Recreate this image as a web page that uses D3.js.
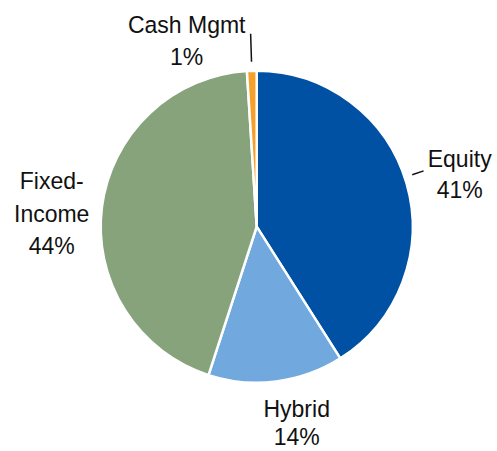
<!DOCTYPE html>
<html>
<head>
<meta charset="utf-8">
<script src="https://cdn.jsdelivr.net/npm/d3@7"></script>
<style>
  html, body { margin: 0; padding: 0; background: #fff; }
  svg text { font-family: "Liberation Sans", Arial, sans-serif; fill: #111; }
</style>
</head>
<body>
<div id="chart"></div>
<script>
// Data
const categories = ["Equity", "Hybrid", "Fixed-Income", "Cash Mgmt"];
const shares = [41, 14, 44, 1];
const colors = ["#0050a4", "#71a9df", "#87a37c", "#f5a02a"];

// label text lines (per category)
const labelLines = [["Equity", "41%"], ["Hybrid", "14%"], ["Fixed-", "Income", "44%"], ["Cash Mgmt", "1%"]];
// label placement relative to pie centre: x centre, first baseline, line gap
const labelPos = [[203, -60, 31], [40, 190.5, 28], [-205, -37.5, 32.5], [-70, -193.5, 31.5]];
// leader lines: [inner gap, outer gap] beyond the radius, null = none
const leaders = [[8, 20], null, null, [9, 37]];

const width = 497;
const height = 451;
const cx = 256.7, cy = 226.7, radius = 156;

const svg = d3.select("#chart").append("svg")
    .attr("width", width)
    .attr("height", height);

const g = svg.append("g").attr("transform", `translate(${cx},${cy})`);

const pie = d3.pie().sort(null).value(d => d.v);
const arcs = pie(categories.map((c, i) => ({ name: c, v: shares[i], i })));

const arc = d3.arc().innerRadius(0).outerRadius(radius);

// slices
g.selectAll("path.slice")
    .data(arcs)
    .enter().append("path")
    .attr("class", "slice")
    .attr("d", arc)
    .attr("fill", d => colors[d.data.i])
    .attr("stroke", "#fff")
    .attr("stroke-width", 2.5)
    .attr("stroke-linejoin", "round");

// leader lines
arcs.forEach(d => {
    const l = leaders[d.data.i];
    if (!l) return;
    const a = (d.startAngle + d.endAngle) / 2;
    // equity leader tilts slightly up from the radial direction
    const tilt = d.data.i === 0 ? -0.04 : 0;
    const p = r => [Math.sin(a + tilt) * r, -Math.cos(a + tilt) * r];
    const p1 = p(radius + l[0]);
    const p2 = p(radius + l[1]);
    g.append("line")
        .attr("x1", p1[0]).attr("y1", p1[1])
        .attr("x2", p2[0]).attr("y2", p2[1])
        .attr("stroke", "#111")
        .attr("stroke-width", 1.5);
});

// labels
const sy = 1.06;
labelLines.forEach((lines, i) => {
    const [lx, ly, gap] = labelPos[i];
    const t = g.append("text")
        .attr("text-anchor", "middle")
        .style("font-size", "23px")
        .attr("transform", `translate(${lx},${ly}) scale(1,${sy})`);
    lines.forEach((s, j) => {
        t.append("tspan")
            .attr("x", 0)
            .attr("y", j * gap / sy)
            .text(s);
    });
});
</script>
</body>
</html>
